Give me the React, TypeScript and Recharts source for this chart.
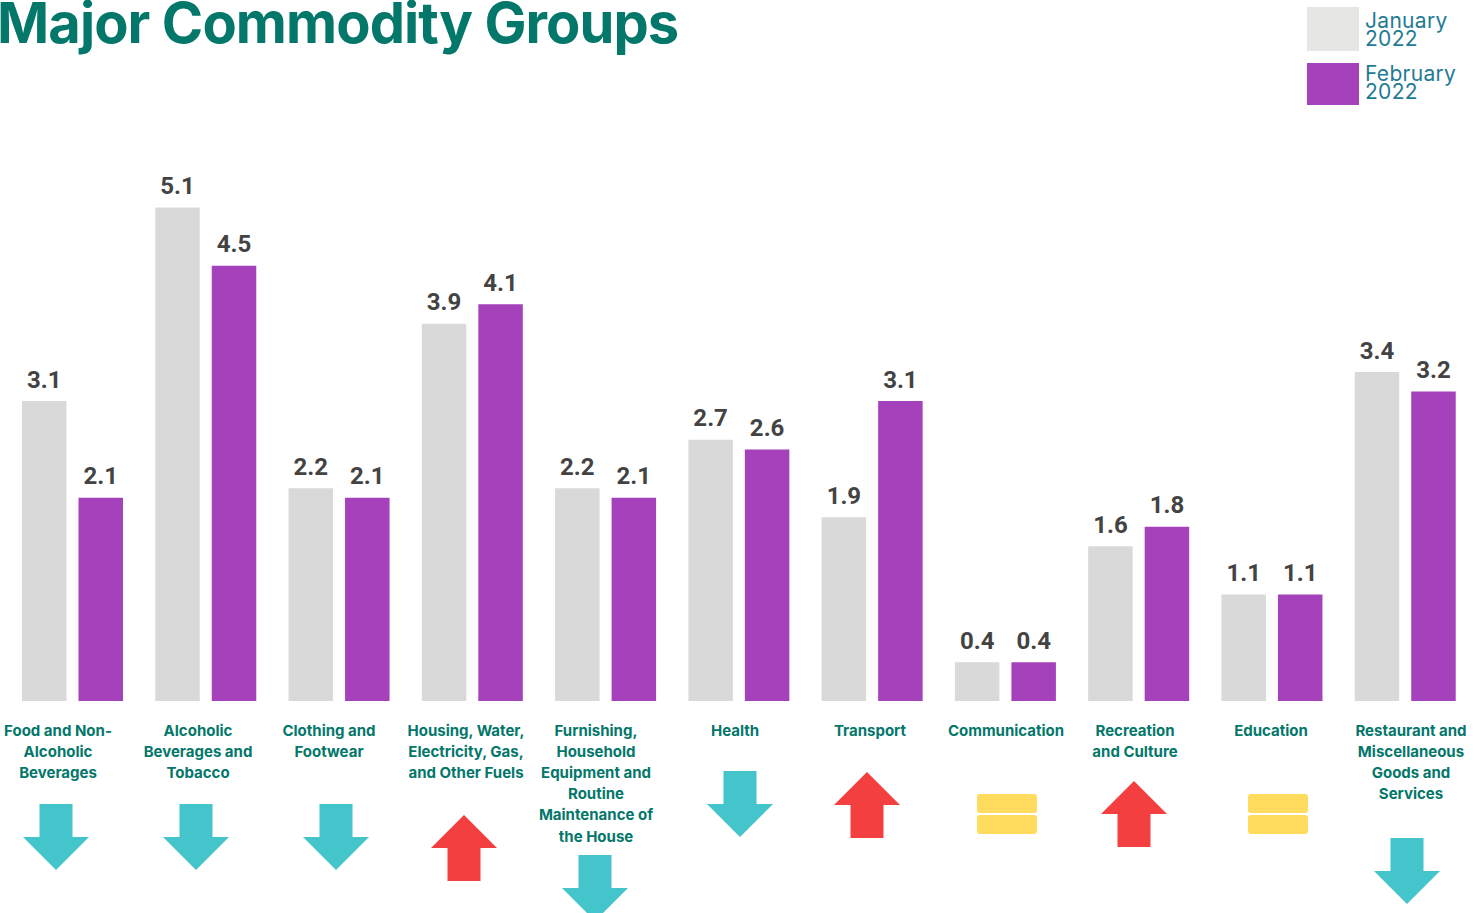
import { BarChart, Bar, XAxis, YAxis, LabelList } from "recharts";

const categories = [
  "Food and Non-|Alcoholic|Beverages",
  "Alcoholic|Beverages and|Tobacco",
  "Clothing and|Footwear",
  "Housing, Water,|Electricity, Gas,|and Other Fuels",
  "Furnishing,|Household|Equipment and|Routine|Maintenance of|the House",
  "Health",
  "Transport",
  "Communication",
  "Recreation|and Culture",
  "Education",
  "Restaurant and|Miscellaneous|Goods and|Services",
];
const january = [3.1, 5.1, 2.2, 3.9, 2.2, 2.7, 1.9, 0.4, 1.6, 1.1, 3.4];
const february = [2.1, 4.5, 2.1, 4.1, 2.1, 2.6, 3.1, 0.4, 1.8, 1.1, 3.2];
const trend = ["down", "down", "down", "up", "down", "down", "up", "same", "up", "same", "down"];

const data = categories.map((name, i) => ({
  name,
  jan: january[i],
  feb: february[i],
  trend: trend[i],
}));

// labels and arrows sit off the bar groups in the original layout
const labelX = [58, 198, 329, 466, 596, 735, 870, 1006, 1135, 1271, 1411];
const markX = [56, 196, 336, 464, 595, 740, 867, 1007, 1134, 1278, 1407];
const markY = [804, 804, 804, 815, 855, 771, 772, 794, 781, 794, 838];

const TEAL = "#03776a";
const labelFont = "Inter, sans-serif";

function TrendMark({ x, y, kind }: { x: number; y: number; kind: string }) {
  if (kind === "same") {
    return (
      <g fill="#ffdb5e">
        <rect x={x - 30} y={y} width={60} height={19} rx={3} />
        <rect x={x - 30} y={y + 21} width={60} height={19} rx={3} />
      </g>
    );
  }
  const pts =
    kind === "down"
      ? [[-16.5, 0], [16.5, 0], [16.5, 33], [33, 33], [0, 66], [-33, 33], [-16.5, 33]]
      : [[0, 0], [33, 33], [16.5, 33], [16.5, 66], [-16.5, 66], [-16.5, 33], [-33, 33]];
  return (
    <polygon
      points={pts.map(([a, b]) => `${x + a},${y + b}`).join(" ")}
      fill={kind === "down" ? "#44c4cb" : "#f43f40"}
    />
  );
}

function CategoryTick({ y, index, payload }: any) {
  const lines = String(payload.value).split("|");
  return (
    <g>
      <text
        textAnchor="middle"
        fontFamily={labelFont}
        fontWeight={700}
        fontSize={15}
        fill={TEAL}
      >
        {lines.map((line, i) => (
          <tspan key={i} x={labelX[index]} y={y + 28.5 + i * 21.2}>
            {line}
          </tspan>
        ))}
      </text>
      <TrendMark x={markX[index]} y={markY[index]} kind={trend[index]} />
    </g>
  );
}

const legendText = {
  position: "absolute",
  left: 1365,
  width: 112,
  fontFamily: "Inter, sans-serif",
  fontWeight: 400,
  fontSize: 21,
  lineHeight: "18px",
  letterSpacing: 0.3,
  color: "#1f7b93",
} as const;

export default function App() {
  return (
    <div
      style={{
        position: "absolute",
        left: 0,
        top: 0,
        width: 1481,
        height: 913,
        overflow: "hidden",
        background: "#fff",
      }}
    >
      <div
        style={{
          position: "absolute",
          left: -3,
          top: -10,
          fontFamily: "Inter, sans-serif",
          fontWeight: 700,
          fontSize: 56,
          lineHeight: "66px",
          letterSpacing: -0.9,
          color: TEAL,
          whiteSpace: "nowrap",
        }}
      >
        Major Commodity Groups
      </div>

      <div style={{ position: "absolute", left: 1307, top: 7, width: 52, height: 44, background: "#e6e6e4" }} />
      <div style={{ position: "absolute", left: 1307, top: 63, width: 52, height: 42, background: "#a541bb" }} />
      <div style={{ ...legendText, top: 12 }}>
        January
        <br />
        2022
      </div>
      <div style={{ ...legendText, top: 65 }}>
        February
        <br />
        2022
      </div>

      <BarChart
        width={1481}
        height={913}
        data={data}
        barSize={44.5}
        barGap={12}
        margin={{ top: 120.5, right: 9, bottom: 0, left: 6 }}
        style={{ position: "absolute", left: 0, top: 0 }}
      >
        <XAxis
          dataKey="name"
          height={212}
          interval={0}
          axisLine={false}
          tickLine={false}
          tickMargin={0}
          tick={CategoryTick}
        />
        <YAxis hide domain={[0, 6]} />
        {[
          { key: "jan", fill: "#d9d9d9" },
          { key: "feb", fill: "#a541bb" },
        ].map((s) => (
          <Bar key={s.key} dataKey={s.key} fill={s.fill} isAnimationActive={false}>
            <LabelList
              dataKey={s.key}
              position="top"
              offset={13.5}
              fontFamily="Roboto, sans-serif"
              fontWeight={700}
              fontSize={24}
              fill="#434343"
            />
          </Bar>
        ))}
      </BarChart>
    </div>
  );
}
